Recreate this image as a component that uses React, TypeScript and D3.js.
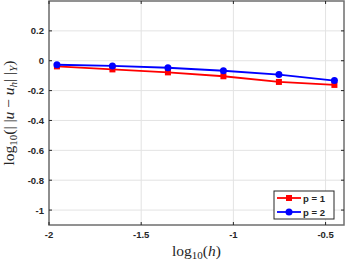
import React from 'react';
import * as d3 from 'd3';

// log10(h) values, h = sqrt(2) / 2^k
const logH = [-1.957, -1.656, -1.355, -1.054, -0.753, -0.452];
const errP1 = [-0.038, -0.058, -0.078, -0.104, -0.142, -0.162];
const errP2 = [-0.027, -0.035, -0.047, -0.067, -0.093, -0.133];
const xTicks = [-2, -1.5, -1, -0.5];
const yTicks = [0.2, 0, -0.2, -0.4, -0.6, -0.8, -1];
const seriesNames = ['p = 1', 'p = 2'];
const seriesColors = ['#ff0000', '#0000ff'];

const W = 346;
const H = 261;
const margin = { top: 1, right: 2, bottom: 36, left: 49 };

export default function App() {
  const x = d3.scaleLinear().domain([-2, -0.4]).range([margin.left, W - margin.right]);
  const y = d3.scaleLinear().domain([-1.1, 0.4]).range([H - margin.bottom, margin.top]);
  const [x0, x1] = x.range();
  const [y0, y1] = y.range();

  const line = d3.line<[number, number]>().x(d => x(d[0])).y(d => y(d[1]));
  const pts1 = logH.map((h, i) => [h, errP1[i]] as [number, number]);
  const pts2 = logH.map((h, i) => [h, errP2[i]] as [number, number]);

  const tickFont = { fontFamily: '"Liberation Sans", Arial, sans-serif', fontWeight: 700, fontSize: 9.5, fill: '#262626' };
  const mathFont = { fontFamily: '"Liberation Serif", "DejaVu Serif", serif', fontSize: 15.5, fill: '#262626' };

  const legX = 274, legY = 191, legW = 60, legH = 28;

  return (
    <div style={{ position: 'fixed', left: 0, top: 0 }}>
      <svg width={W} height={H} style={{ display: 'block', background: '#fff' }}>
        {/* grid */}
        {xTicks.map(t => (
          <line key={'gx' + t} x1={x(t)} x2={x(t)} y1={y1} y2={y0} stroke="#e3e3e3" strokeWidth={1} />
        ))}
        {yTicks.map(t => (
          <line key={'gy' + t} x1={x0} x2={x1} y1={y(t)} y2={y(t)} stroke="#e3e3e3" strokeWidth={1} />
        ))}

        {/* series */}
        <path d={line(pts1) ?? ''} fill="none" stroke={seriesColors[0]} strokeWidth={1.8} />
        {pts1.map((d, i) => (
          <rect key={'s' + i} x={x(d[0]) - 3} y={y(d[1]) - 3} width={6} height={6} fill={seriesColors[0]} />
        ))}
        <path d={line(pts2) ?? ''} fill="none" stroke={seriesColors[1]} strokeWidth={1.8} />
        {pts2.map((d, i) => (
          <circle key={'c' + i} cx={x(d[0])} cy={y(d[1])} r={3.5} fill={seriesColors[1]} />
        ))}

        {/* axes box */}
        <rect x={x0} y={y1} width={x1 - x0} height={y0 - y1} fill="none" stroke="#6e6e6e" strokeWidth={1.5} />
        {xTicks.map(t => (
          <g key={'tx' + t}>
            <line x1={x(t)} x2={x(t)} y1={y0} y2={y0 - 3} stroke="#262626" />
            <line x1={x(t)} x2={x(t)} y1={y1} y2={y1 + 3} stroke="#262626" />
            <text x={x(t)} y={y0 + 13} textAnchor="middle" {...tickFont}>{t}</text>
          </g>
        ))}
        {yTicks.map(t => (
          <g key={'ty' + t}>
            <line x1={x0} x2={x0 + 3} y1={y(t)} y2={y(t)} stroke="#262626" />
            <line x1={x1} x2={x1 - 3} y1={y(t)} y2={y(t)} stroke="#262626" />
            <text x={x0 - 5} y={y(t) + 3.5} textAnchor="end" {...tickFont}>{t}</text>
          </g>
        ))}

        {/* x label */}
        <text x={(x0 + x1) / 2} y={256} textAnchor="middle" {...mathFont}>
          log<tspan fontSize={11} dy={3}>10</tspan>
          <tspan dy={-3}>(</tspan>
          <tspan fontStyle="italic">h</tspan>)
        </text>

        {/* y label */}
        <text transform={`translate(14,${(y0 + y1) / 2}) rotate(-90)`} textAnchor="middle" {...mathFont}>
          log<tspan fontSize={11} dy={3}>10</tspan>
          <tspan dy={-3}>(| |</tspan>
          <tspan fontStyle="italic">u</tspan> − <tspan fontStyle="italic">u</tspan>
          <tspan fontSize={11} fontStyle="italic" dy={3}>h</tspan>
          <tspan dy={-3}>| |</tspan>
          <tspan fontSize={11} fontStyle="italic" dy={3}>Y</tspan>
          <tspan dy={-3}>)</tspan>
        </text>

        {/* legend */}
        <rect x={legX} y={legY} width={legW} height={legH} fill="#fff" stroke="#262626" strokeWidth={1} />
        {seriesNames.map((name, i) => {
          const ly = legY + 7 + i * 14;
          return (
            <g key={name}>
              <line x1={legX + 3} x2={legX + 27} y1={ly} y2={ly} stroke={seriesColors[i]} strokeWidth={1.8} />
              {i === 0 ? (
                <rect x={legX + 12} y={ly - 3} width={6} height={6} fill={seriesColors[i]} />
              ) : (
                <circle cx={legX + 15} cy={ly} r={3.5} fill={seriesColors[i]} />
              )}
              <text x={legX + 29} y={ly + 3.5} {...tickFont}>{name}</text>
            </g>
          );
        })}
      </svg>
    </div>
  );
}
